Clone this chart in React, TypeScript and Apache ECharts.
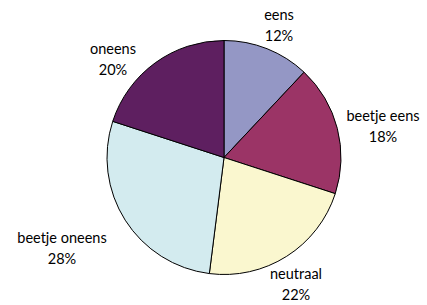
import React, { useEffect, useRef } from "react";
import * as echarts from "echarts";

const categories = ["eens", "beetje eens", "neutraal", "beetje oneens", "oneens"];
const values = [12, 18, 22, 28, 20];
const colors = ["#9497c5", "#9b3466", "#faf7cf", "#d3ebef", "#5e1f60"];
// label block centres (layout, px)
const labelAnchors: [number, number][] = [
  [279, 25],
  [383, 126],
  [296, 284],
  [62, 248],
  [113, 59],
];

export default function App() {
  const ref = useRef<HTMLDivElement>(null);
  useEffect(() => {
    if (!ref.current) return;
    const chart = echarts.init(ref.current, undefined, { renderer: "svg" });
    chart.setOption({
      animation: false,
      backgroundColor: "#ffffff",
      series: [
        {
          type: "pie",
          center: [224, 157.5],
          radius: 117,
          startAngle: 90,
          clockwise: true,
          avoidLabelOverlap: false,
          data: categories.map((c, i) => ({
            name: c,
            value: values[i],
            itemStyle: { color: colors[i] },
          })),
          itemStyle: { borderColor: "#000000", borderWidth: 1 },
          label: {
            show: true,
            position: "outside",
            formatter: "{b}\n{d}%",
            fontFamily: "Lato",
            fontSize: 14.5,
            lineHeight: 21,
            color: "#000000",
            align: "center",
          },
          labelLine: { show: false },
          labelLayout: (params: any) => {
            const a = labelAnchors[params.dataIndex];
            return { x: a[0], y: a[1], align: "center", verticalAlign: "middle" };
          },
          emphasis: { disabled: true },
        },
      ],
    });
    return () => chart.dispose();
  }, []);
  return (
    <div
      ref={ref}
      style={{ position: "absolute", left: 0, top: 0, width: 427, height: 305 }}
    />
  );
}
